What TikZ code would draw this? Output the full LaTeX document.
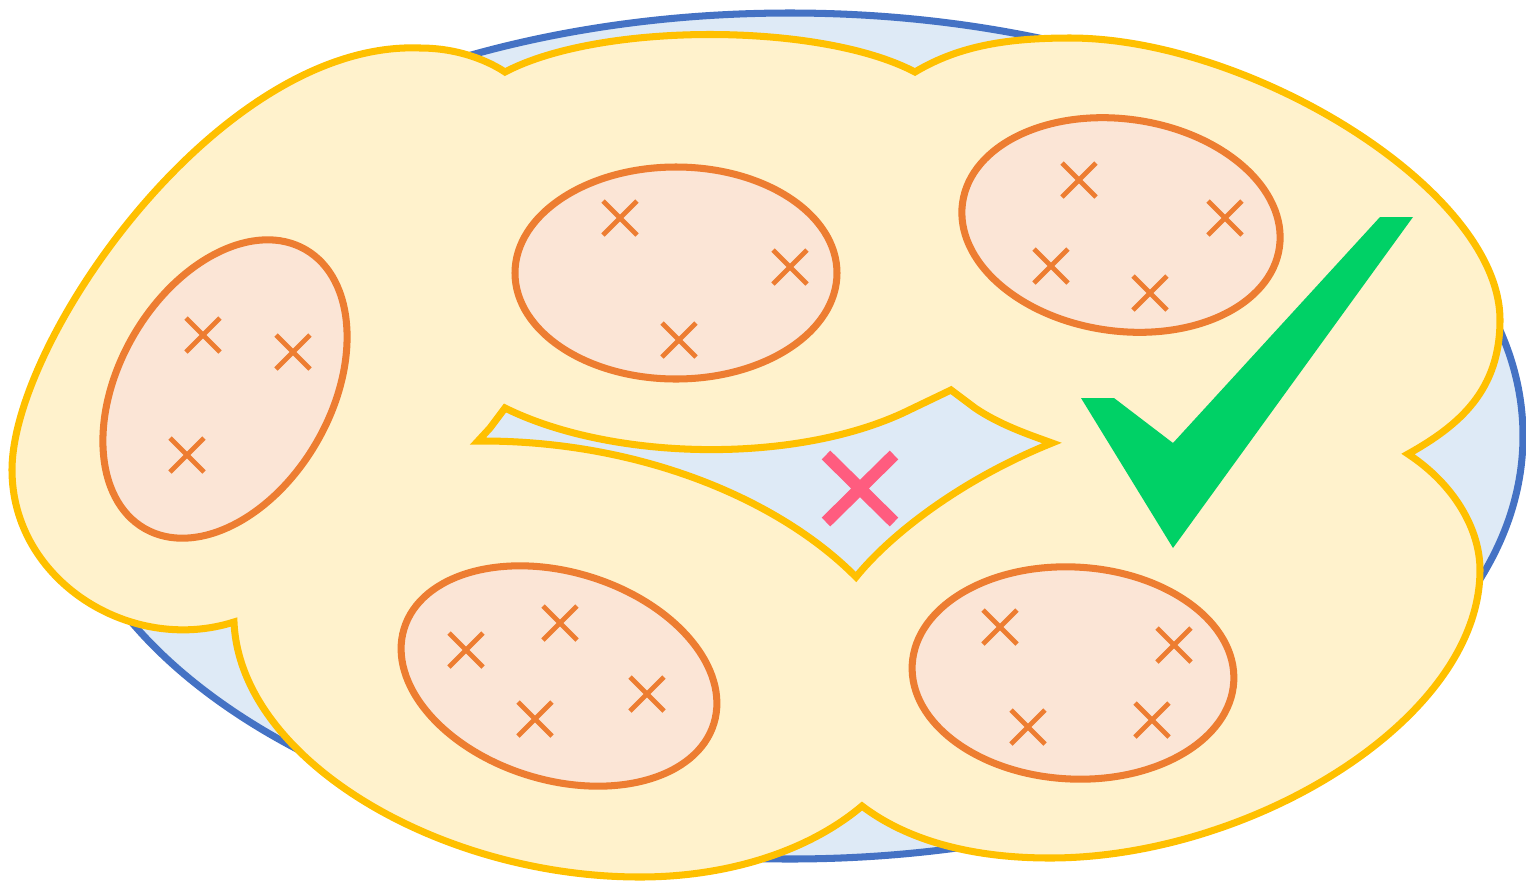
\documentclass[tikz,border=0pt]{standalone}
\usepackage{tikz}
\definecolor{SpaceLine}{HTML}{4472C4}
\definecolor{SpaceFill}{HTML}{DEEAF6}
\definecolor{CoverLine}{HTML}{FFC000}
\definecolor{CoverFill}{HTML}{FFF2CC}
\definecolor{GroupLine}{HTML}{ED7D31}
\definecolor{GroupFill}{HTML}{FBE5D6}
\definecolor{Miss}{HTML}{FF5C7F}
\definecolor{Hit}{HTML}{00D166}
\tikzset{
  space/.style={draw=SpaceLine,fill=SpaceFill,line width=2pt},
  cover/.style={draw=CoverLine,fill=CoverFill,line width=2pt},
  group/.style={draw=GroupLine,fill=GroupFill,line width=2pt},
  sample/.style={draw=GroupLine,line width=1.4pt},
  reject/.style={draw=Miss,line width=3.5pt}
}

\begin{document}
\begin{tikzpicture}[x=0.01cm,y=-0.01cm]
  \useasboundingbox (0,0) rectangle (1526,881);
  % whole space
  \draw[space] (790,436) ellipse [x radius=733, y radius=423];
  % covering cloud
  \draw[cover] (234,622) .. controls (130,655) and (12,580) .. (12,470)
    .. controls (12,340) and (220,40) .. (420,48)
    .. controls (460,48) and (490,62) .. (505,72)
    .. controls (600,22) and (820,22) .. (915,72)
    .. controls (960,45) and (1010,38) .. (1070,38)
    .. controls (1250,38) and (1500,190) .. (1500,320)
    .. controls (1500,390) and (1460,425) .. (1408,454)
    .. controls (1455,485) and (1480,530) .. (1480,570)
    .. controls (1480,720) and (1250,858) .. (1050,858)
    .. controls (960,858) and (900,835) .. (862,806)
    .. controls (810,850) and (730,877) .. (640,877)
    .. controls (440,877) and (240,760) .. (234,622) -- cycle;
  % uncovered gap
  \draw[cover,fill=SpaceFill] (505,408) .. controls (610,460) and (790,465) .. (903,413)
    -- (951,390) -- (975,408) .. controls (1000,425) and (1030,435) .. (1052,443)
    .. controls (960,480) and (890,535) .. (856,577)
    .. controls (780,500) and (640,440) .. (478,441)
    -- (490,428) -- cycle;
  % clusters
  \draw[group,rotate around={60:(225,389)}] (225,389) ellipse [x radius=161, y radius=106];
  \draw[group] (676,273) ellipse [x radius=161, y radius=106];
  \draw[group,rotate around={-8:(1121,225)}] (1121,225) ellipse [x radius=160, y radius=106];
  \draw[group,rotate around={-17:(559,676)}] (559,676) ellipse [x radius=162, y radius=104];
  \draw[group,rotate around={-3:(1073,673)}] (1073,673) ellipse [x radius=161, y radius=106];
  % samples
  \foreach \px/\py in {203/335,293/352,187/455,620/218,790/267,679/340,
      1079/180,1225/218,1051/266,1150/293,466/650,560/623,647/694,535/719,
      1000/627,1174/645,1028/727,1152/720}
    \draw[sample] (\px-17,\py-17) -- (\px+17,\py+17) (\px-17,\py+17) -- (\px+17,\py-17);
  % gap marker
  \draw[reject] (826,455) -- (894,522) (826,522) -- (894,455);
  % check mark
  \fill[Hit] (1081,398) -- (1114,398) -- (1173,443) -- (1380,217) -- (1413,217) -- (1173,548) -- cycle;
\end{tikzpicture}
\end{document}
